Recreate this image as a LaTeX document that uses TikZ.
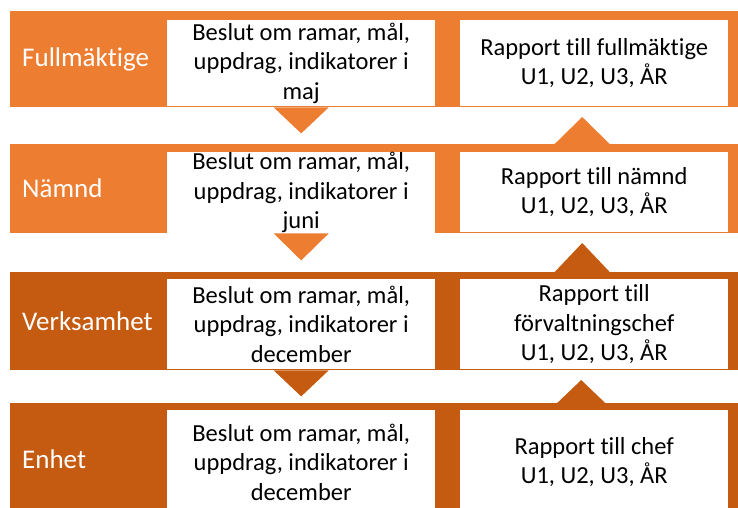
\documentclass[tikz,border=0pt]{standalone}
\usepackage{fontspec}
\setmainfont{Carlito}[Ligatures=CommonOff]
\usetikzlibrary{positioning}
\definecolor{orangeL}{HTML}{ED7D31}
\definecolor{orangeD}{HTML}{C55A11}

\begin{document}
\begin{tikzpicture}[x=1pt, y=-1pt,
  band/.style={fill=#1, minimum width=728pt, inner sep=0pt, anchor=north west},
  box/.style={fill=white, anchor=north west, minimum width=268pt, inner sep=0pt, align=center, font=\fontsize{24.5}{29.5}\selectfont},
  lab/.style={text=white, inner sep=0pt, font=\fontsize{27}{32}\selectfont}]
  \useasboundingbox (0,0) rectangle (738,508);
  % levels
  \node[band=orangeL, minimum height=96pt] (f) at (10,11) {};
  \node[band=orangeL, minimum height=89pt] (n) at (10,144) {};
  \node[band=orangeD, minimum height=98pt] (v) at (10,272) {};
  \node[band=orangeD, minimum height=112pt] (e) at (10,403) {};
  \node[lab, right=12pt of f.west] (fl) {Fullmäktige};
  \node[lab, right=12pt of n.west] (nl) {Nämnd};
  \node[lab, right=12pt of v.west] (vl) {Verksamhet};
  \node[lab, right=12pt of e.west] (el) {Enhet};
  % decisions
  \node[box, minimum height=86pt] (fb) at (167,20) {Beslut om ramar, mål,\\ uppdrag, indikatorer i\\ maj};
  \node[box, minimum height=80pt] (nb) at (167,152) {Beslut om ramar, mål,\\ uppdrag, indikatorer i\\ juni};
  \node[box, minimum height=90pt] (vb) at (167,279) {Beslut om ramar, mål,\\ uppdrag, indikatorer i\\ december};
  \node[box, minimum height=104pt] (eb) at (167,410) {Beslut om ramar, mål,\\ uppdrag, indikatorer i\\ december};
  % reports
  \node[box, minimum height=86pt] (fr) at (460,20) {Rapport till fullmäktige\\ U1, U2, U3, ÅR};
  \node[box, minimum height=80pt] (nr) at (460,152) {Rapport till nämnd\\ U1, U2, U3, ÅR};
  \node[box, minimum height=90pt] (vr) at (460,279) {Rapport till\\ förvaltningschef\\ U1, U2, U3, ÅR};
  \node[box, minimum height=104pt] (er) at (460,410) {Rapport till chef\\ U1, U2, U3, ÅR};
  % arrows down
  \fill[orangeL] ([xshift=-100.5pt]f.south) -- ([xshift=-45.5pt]f.south) -- ([xshift=-73pt, yshift=-26pt]f.south) -- cycle;
  \fill[orangeL] ([xshift=-100.5pt]n.south) -- ([xshift=-45.5pt]n.south) -- ([xshift=-73pt, yshift=-27pt]n.south) -- cycle;
  \fill[orangeD] ([xshift=-100.5pt]v.south) -- ([xshift=-45.5pt]v.south) -- ([xshift=-73pt, yshift=-26pt]v.south) -- cycle;
  % arrows up
  \fill[orangeL] ([xshift=180.5pt]n.north) -- ([xshift=235.5pt]n.north) -- ([xshift=208pt, yshift=27pt]n.north) -- cycle;
  \fill[orangeD] ([xshift=180.5pt]v.north) -- ([xshift=235.5pt]v.north) -- ([xshift=208pt, yshift=29pt]v.north) -- cycle;
  \fill[orangeD] ([xshift=183pt]e.north) -- ([xshift=231pt]e.north) -- ([xshift=207pt, yshift=23pt]e.north) -- cycle;
\end{tikzpicture}
\end{document}
